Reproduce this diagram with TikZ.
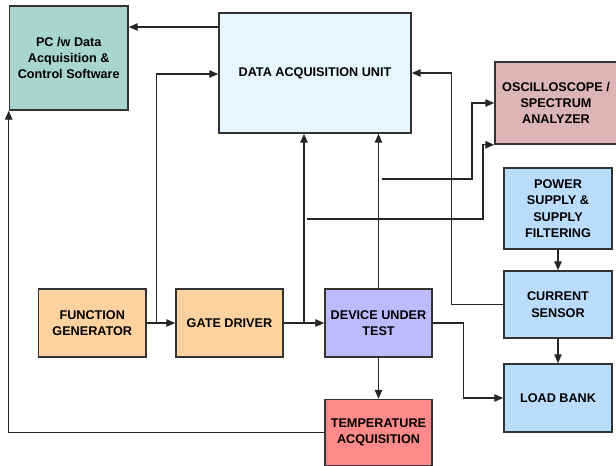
\documentclass[tikz,border=0pt]{standalone}
\usepackage{fontspec}
\setsansfont{Liberation Sans}
\usepackage[svgnames]{xcolor}
\usetikzlibrary{arrows.meta}

\definecolor{pcteal}{HTML}{A9D5D1}
\definecolor{daqcyan}{HTML}{E6F6FE}
\definecolor{oscrose}{HTML}{DDB5B5}
\definecolor{powblue}{HTML}{BBDDFD}
\definecolor{genorange}{HTML}{FDD29F}
\definecolor{dutviolet}{HTML}{BBBBFD}
\definecolor{tempred}{HTML}{FF8A8A}

\begin{document}
\begin{tikzpicture}[
		block/.style={draw=black!80, line width=0.9pt, align=center, inner sep=1pt, font=\sffamily\bfseries\fontsize{7.2}{9.3}\selectfont},
		wire/.style={draw=black!85, line width=0.65pt},
		arr/.style={wire, -{Triangle[length=5pt, width=4.2pt]}}
	]
		\useasboundingbox (0, 0) rectangle (12.32, -9.32);

		\node[block, fill=pcteal, minimum width=2.37cm, minimum height=2.08cm] at (1.375, -1.16) (pc) {PC /w Data\\Acquisition \&\\Control Software};
		\node[block, fill=daqcyan, minimum width=3.84cm, minimum height=2.4cm] at (6.3, -1.46) (daq) {DATA ACQUISITION UNIT};
		\node[block, fill=oscrose, minimum width=2.44cm, minimum height=1.64cm] at (11.12, -2.06) (osc) {OSCILLOSCOPE /\\SPECTRUM\\ANALYZER};
		\node[block, fill=powblue, minimum width=2.16cm, minimum height=1.62cm] at (11.16, -4.17) (psu) {POWER\\SUPPLY \&\\SUPPLY\\FILTERING};
		\node[block, fill=powblue, minimum width=2.16cm, minimum height=1.34cm] at (11.16, -6.09) (cur) {CURRENT\\SENSOR};
		\node[block, fill=powblue, minimum width=2.16cm, minimum height=1.36cm] at (11.16, -7.96) (load) {LOAD BANK};
		\node[block, fill=genorange, minimum width=2.15cm, minimum height=1.36cm] at (1.845, -6.46) (fgen) {FUNCTION\\GENERATOR};
		\node[block, fill=genorange, minimum width=2.14cm, minimum height=1.36cm] at (4.59, -6.46) (gdrv) {GATE DRIVER};
		\node[block, fill=dutviolet, minimum width=2.14cm, minimum height=1.36cm] at (7.57, -6.46) (dut) {DEVICE UNDER\\TEST};
		\node[block, fill=tempred, minimum width=2.14cm, minimum height=1.32cm] at (7.57, -8.65) (temp) {TEMPERATURE\\ACQUISITION};

		\coordinate (b1) at (3.13, -6.46);
		\coordinate (b2) at (6.08, -6.46);
		\coordinate (s1) at (7.64, -3.58);
		\coordinate (s2) at (6.14, -4.38);

		\draw[arr] (daq.west |- 0,-0.54) -- (pc.east |- 0,-0.54);
		\draw[arr] (fgen.east) -- (gdrv.west);
		\draw[arr] (b1) |- ([yshift=-0.02cm]daq.west);
		\draw[arr] (gdrv.east) -- (dut.west);
		\draw[arr] (b2) -- (b2 |- daq.south);
		\draw[arr] (dut.north) -- (dut.north |- daq.south);
		\draw[arr] (dut.east) -- ++(0.62, 0) |- (load.west);
		\draw[arr] (cur.west) -- ++(-1.04, 0) |- (daq.east);
		\draw[arr] (s1) -- (s1 -| 9.44,0) |- (osc.west);
		\draw[arr] (s2) -- (s2 -| 9.66,0) |- (osc.south west);
		\draw[arr] (psu.south) -- (cur.north);
		\draw[arr] (cur.south) -- (load.north);
		\draw[arr] (dut.south) -- (temp.north);
		\draw[arr] (temp.west) -| (pc.south west);
	\end{tikzpicture}
\end{document}
